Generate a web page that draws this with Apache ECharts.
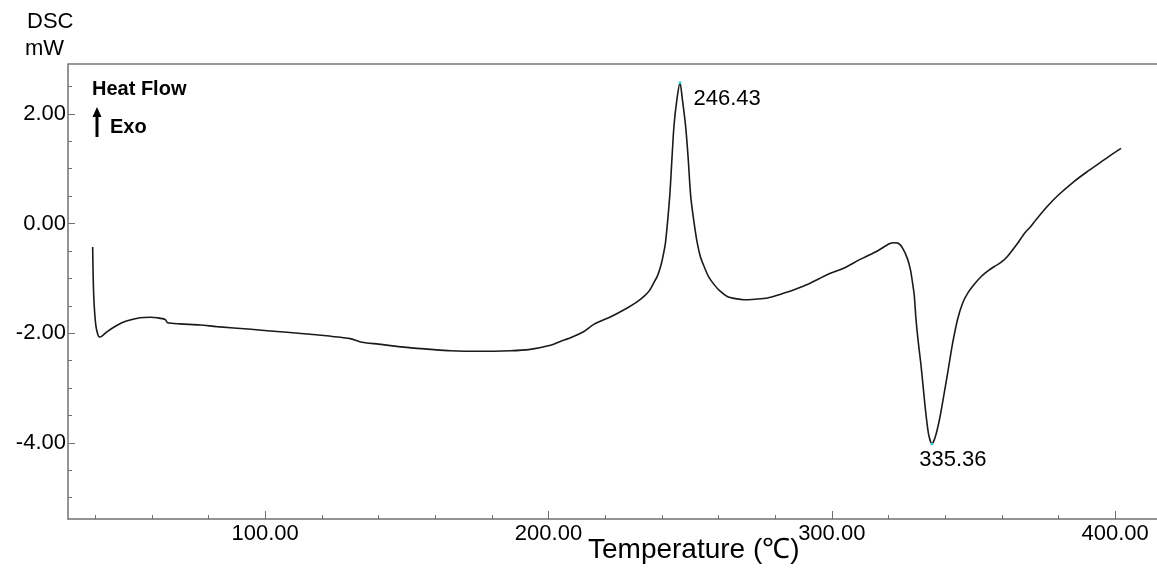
<!DOCTYPE html>
<html>
<head>
<meta charset="utf-8">
<script src="https://cdn.jsdelivr.net/npm/echarts@6/dist/echarts.min.js"></script>
<style>
html, body { margin: 0; padding: 0; background: #fff; }
#dscChart { width: 1157px; height: 570px; }
</style>
</head>
<body>
<div id="dscChart"></div>
<script>
// temperature (C) and heat flow (mW)
var tempC = [39.1, 39.3, 39.6, 40.2, 40.9, 41.5, 42.5, 44.0, 47.6, 51.0, 55.8, 59.4, 62.0, 64.7, 65.6, 70, 77, 82.9, 95, 106.5,
    118, 130, 133.6, 140, 150, 159.5, 165.4, 175, 186.6, 193, 200.7, 204.2, 208, 212.5, 216, 222, 227.8, 231, 233.7, 235.7,
    237.2, 238.5, 239.6, 240.5, 241.3, 242.8, 243.6, 244.3, 245.3, 246.43, 247.3, 248.4, 249.3, 250.2, 251.3, 252.5, 253.6, 254.9, 256.5, 258.4,
    260.5, 263.1, 266, 269, 273, 277.3, 282, 286.7, 292, 298.5, 304, 310.2, 316.1, 320.3, 322, 323.5, 325, 326.7, 327.8, 328.5,
    329.1, 329.7, 330.5, 331.4, 332.3, 333.2, 334.2, 335.36, 336.5, 338, 339.5, 340.9, 342.6, 344.4, 346.2, 348, 350.3, 352.5, 355, 357.5,
    359.7, 362, 365.6, 368, 370.3, 372.1, 376.2, 380, 385.6, 390, 393.9, 398, 402.1]
var heatFlow = [-0.43, -1.00, -1.45, -1.85, -2.02, -2.07, -2.05, -1.98, -1.86, -1.78, -1.72, -1.71, -1.72, -1.75, -1.81, -1.83, -1.85, -1.88, -1.93, -1.98,
    -2.03, -2.10, -2.16, -2.20, -2.26, -2.30, -2.32, -2.33, -2.32, -2.30, -2.22, -2.15, -2.08, -1.97, -1.84, -1.70, -1.54, -1.44, -1.33, -1.22,
    -1.08, -0.95, -0.78, -0.58, -0.35, 0.50, 1.20, 1.78, 2.25, 2.57, 2.25, 1.78, 1.20, 0.50, 0.05, -0.35, -0.60, -0.78, -0.97, -1.11,
    -1.23, -1.33, -1.37, -1.39, -1.38, -1.36, -1.29, -1.21, -1.10, -0.93, -0.82, -0.65, -0.50, -0.37, -0.35, -0.36, -0.45, -0.64, -0.85, -1.08,
    -1.30, -1.73, -2.15, -2.54, -3.00, -3.46, -3.85, -4.02, -3.90, -3.58, -3.15, -2.73, -2.20, -1.75, -1.45, -1.27, -1.11, -0.98, -0.87, -0.78,
    -0.71, -0.60, -0.36, -0.18, -0.05, 0.07, 0.32, 0.52, 0.77, 0.94, 1.08, 1.23, 1.37]

var peakTemps = [246.43, 335.36]
var peakValues = [2.57, -4.02]

var xMajorTicks = [100, 200, 300, 400]
var xMinorTicks = [40, 60, 80, 120, 140, 160, 180, 220, 240, 260, 280, 320, 340, 360, 380]
var yMajorTicks = [-4, -2, 0, 2]
var yMinorTicks = [-5, -4.5, -3.5, -3, -2.5, -1.5, -1, -0.5, 0.5, 1, 1.5, 2.5]

var fontFam = '"Liberation Sans", Arial, sans-serif'
var axisGrey = '#707070'

var curve = tempC.map(function (t, i) { return [t, heatFlow[i]] })

var chart = echarts.init(document.getElementById('dscChart'))
chart.setOption({
    animation: false,
    backgroundColor: '#fff',
    grid: {
        left: 68,
        top: 64,
        width: 1089,
        height: 455,
        outerBoundsMode: 'none',
        containLabel: false
    },
    xAxis: [{
        type: 'value',
        min: 30.4,
        max: 414.8,
        position: 'bottom',
        axisLine: { show: true, onZero: false, lineStyle: { color: axisGrey, width: 1.5 } },
        axisTick: { show: true, inside: true, length: 8, customValues: xMajorTicks, lineStyle: { color: axisGrey } },
        axisLabel: {
            customValues: xMajorTicks,
            margin: 4,
            color: '#000',
            fontSize: 22,
            fontFamily: fontFam,
            formatter: function (v) { return v.toFixed(2) }
        },
        splitLine: { show: false }
    }, {
        type: 'value',
        min: 30.4,
        max: 414.8,
        position: 'bottom',
        axisLine: { show: false, onZero: false },
        axisTick: { show: true, inside: true, length: 4, customValues: xMinorTicks, lineStyle: { color: axisGrey } },
        axisLabel: { show: false },
        splitLine: { show: false }
    }],
    yAxis: [{
        type: 'value',
        min: -5.39,
        max: 2.91,
        position: 'left',
        axisLine: { show: true, onZero: false, lineStyle: { color: axisGrey, width: 1.5 } },
        axisTick: { show: true, inside: true, length: 7, customValues: yMajorTicks, lineStyle: { color: axisGrey } },
        axisLabel: {
            customValues: yMajorTicks,
            margin: 2,
            color: '#000',
            fontSize: 22,
            fontFamily: fontFam,
            formatter: function (v) { return v.toFixed(2) }
        },
        splitLine: { show: false }
    }, {
        type: 'value',
        min: -5.39,
        max: 2.91,
        position: 'left',
        axisLine: { show: false, onZero: false },
        axisTick: { show: true, inside: true, length: 4, customValues: yMinorTicks, lineStyle: { color: axisGrey } },
        axisLabel: { show: false },
        splitLine: { show: false }
    }],
    series: [{
        type: 'line',
        xAxisIndex: 0,
        yAxisIndex: 0,
        data: curve,
        showSymbol: false,
        smooth: 0.25,
        lineStyle: { color: '#1a1a1a', width: 1.6 },
        markPoint: {
            symbol: 'circle',
            symbolSize: 3,
            itemStyle: { color: '#33cccc' },
            label: { color: '#000', fontSize: 22, fontFamily: fontFam },
            data: [{
                coord: [peakTemps[0], peakValues[0]],
                label: { formatter: peakTemps[0].toFixed(2), position: 'right', distance: 12, offset: [0, 16] }
            }, {
                coord: [peakTemps[1], peakValues[1]],
                label: { formatter: peakTemps[1].toFixed(2), position: 'bottom', distance: 4, offset: [21, 0] }
            }]
        }
    }],
    graphic: [
        // top frame line, open on the right like the instrument print
        { type: 'line', shape: { x1: 68, y1: 64, x2: 1157, y2: 64 }, style: { stroke: '#999', lineWidth: 2 } },
        { type: 'text', left: 27, top: 11, style: { text: 'DSC', font: '22px ' + fontFam, fill: '#000' } },
        { type: 'text', left: 25, top: 38, style: { text: 'mW', font: '22px ' + fontFam, fill: '#000' } },
        { type: 'text', left: 92, top: 79, style: { text: 'Heat Flow', font: 'bold 20px ' + fontFam, fill: '#000' } },
        { type: 'text', left: 110, top: 117, style: { text: 'Exo', font: 'bold 20px ' + fontFam, fill: '#000' } },
        { type: 'line', shape: { x1: 97, y1: 115, x2: 97, y2: 137 }, style: { stroke: '#000', lineWidth: 3 } },
        { type: 'polygon', shape: { points: [[97, 107], [92.5, 117], [101.5, 117]] }, style: { fill: '#000' } },
        { type: 'text', left: 588, top: 536, style: { text: 'Temperature (℃)', font: '28px ' + fontFam, fill: '#000' } }
    ]
})
</script>
</body>
</html>
